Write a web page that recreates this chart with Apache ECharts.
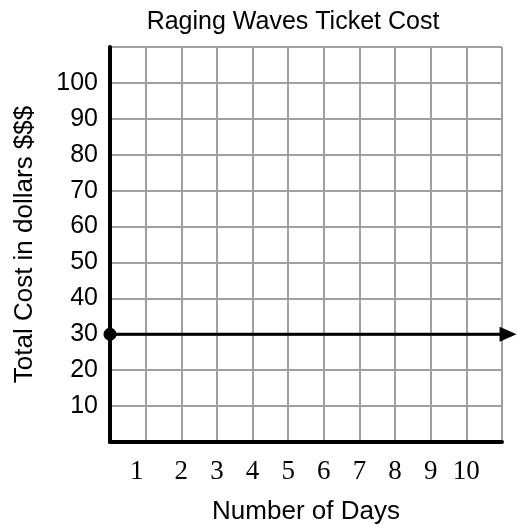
<!DOCTYPE html>
<html>
<head>
<meta charset="utf-8">
<script src="https://cdn.jsdelivr.net/npm/echarts@6/dist/echarts.min.js"></script>
<style>
  html, body { margin: 0; padding: 0; background: #fff; }
  #chart { width: 517px; height: 525px; }
</style>
</head>
<body>
<div id="chart"></div>
<script>
// x ticks (days) and y ticks (dollars) shown on the axes
const dayTicks = [1, 2, 3, 4, 5, 6, 7, 8, 9, 10]
const costTicks = [10, 20, 30, 40, 50, 60, 70, 80, 90, 100]
// the ticket cost line: starts at day 0, runs off the grid as an arrow
const lineDays = [0, 11.17]
const lineCost = [30, 30]

const chart = echarts.init(document.getElementById('chart'))

const gridColor = '#a0a0a0'
const sans = 'Liberation Sans'

const option = {
  backgroundColor: '#fff',
  animation: false,
  title: {
    text: 'Raging Waves Ticket Cost',
    left: 288,
    textAlign: 'center',
    top: 5,
    textStyle: {
      fontFamily: sans,
      fontWeight: 'normal',
      fontSize: 25,
      color: '#000',
    },
  },
  grid: { left: 110, right: 15, top: 47, bottom: 83, outerBoundsMode: 'none' },
  xAxis: {
    type: 'value',
    min: 0,
    max: 11,
    interval: 1,
    name: 'Number of Days',
    nameLocation: 'middle',
    nameGap: 57,
    nameTextStyle: { fontFamily: sans, fontSize: 26, color: '#000' },
    axisLine: { lineStyle: { color: '#000', width: 4 } },
    axisTick: { show: false },
    axisLabel: {
      fontFamily: 'Liberation Serif',
      fontSize: 27,
      color: '#000',
      margin: 16,
      formatter: (v) => {
        if (!dayTicks.includes(v)) return ''
        // the "1" sits a little left of its grid line in the original
        return v === 1 ? '{one|1}' : String(v)
      },
      rich: {
        one: {
          fontFamily: 'Liberation Serif',
          fontSize: 27,
          color: '#000',
          padding: [0, 18, 0, 0],
        },
      },
    },
    splitLine: { show: true, lineStyle: { color: gridColor, width: 2 } },
  },
  yAxis: {
    type: 'value',
    min: 0,
    max: 110,
    interval: 10,
    name: 'Total Cost in dollars $$$',
    nameLocation: 'middle',
    nameGap: 72,
    nameTextStyle: { fontFamily: sans, fontSize: 26, color: '#000' },
    axisLine: { show: true, lineStyle: { color: '#000', width: 4 } },
    axisTick: { show: false },
    axisLabel: {
      fontFamily: sans,
      fontSize: 25,
      color: '#000',
      margin: 12,
      formatter: (v) => (costTicks.includes(v) ? String(v) : ''),
    },
    splitLine: { show: true, lineStyle: { color: gridColor, width: 2 } },
  },
  series: [
    {
      type: 'line',
      clip: false,
      data: lineDays.map((d, i) => {
        const p = { value: [d, lineCost[i]] }
        if (i === 0) {
          p.symbol = 'circle'
          p.symbolSize = 13
        } else {
          p.symbol = 'triangle'
          p.symbolSize = [15, 17]
          p.symbolRotate = -90
        }
        return p
      }),
      showSymbol: true,
      showAllSymbol: true,
      lineStyle: { color: '#000', width: 3 },
      itemStyle: { color: '#000' },
      z: 5,
    },
  ],
}

chart.setOption(option)

window.addEventListener('resize', () => {
  chart.resize()
})
</script>
</body>
</html>
